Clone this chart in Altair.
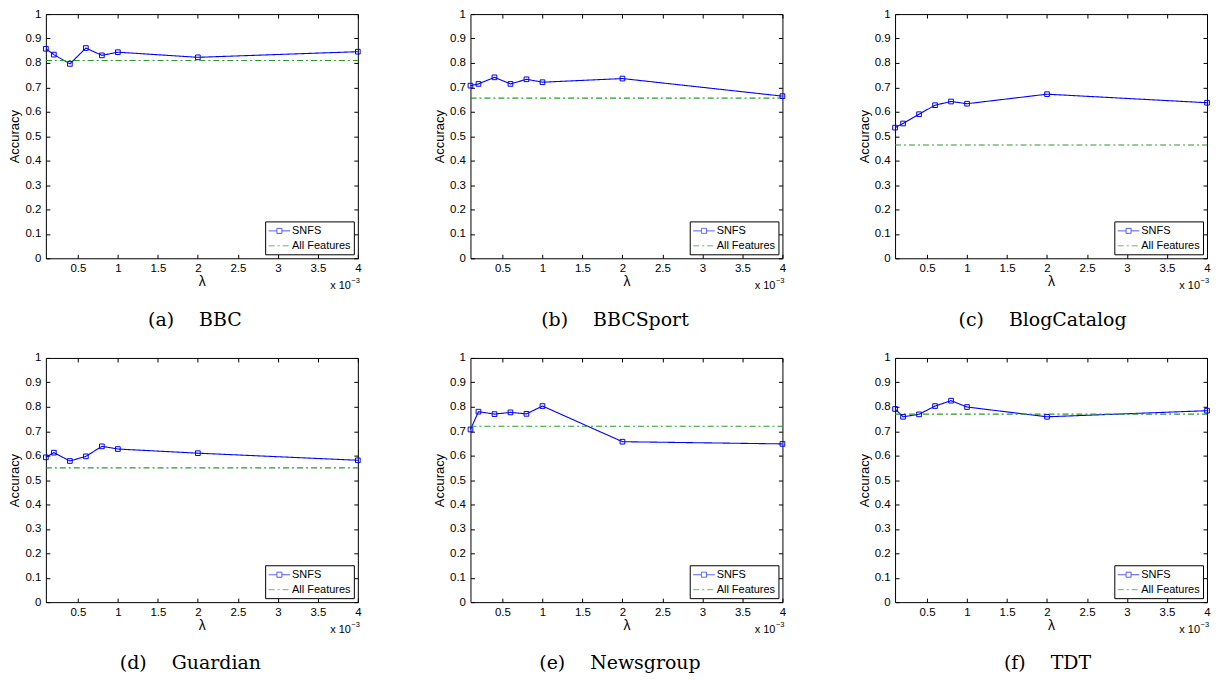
import altair as alt
import pandas as pd

# ---------------- data ----------------
lam = [0.1, 0.2, 0.4, 0.6, 0.8, 1, 2, 4]          # lambda (x 10^-3)
x_ticks = [0.5, 1, 1.5, 2, 2.5, 3, 3.5, 4]
y_ticks = [0, 0.1, 0.2, 0.3, 0.4, 0.5, 0.6, 0.7, 0.8, 0.9, 1]

captions = ["(a)\u2003 BBC", "(b)\u2003 BBCSport", "(c)\u2003 BlogCatalog",
            "(d)\u2003 Guardian", "(e)\u2003 Newsgroup", "(f)\u2003 TDT"]

snfs_bbc = [0.858, 0.834, 0.796, 0.861, 0.831, 0.844, 0.823, 0.846]
snfs_bbcsport = [0.707, 0.714, 0.741, 0.714, 0.733, 0.721, 0.736, 0.664]
snfs_blogcatalog = [0.535, 0.552, 0.590, 0.627, 0.642, 0.633, 0.672, 0.637]
snfs_guardian = [0.593, 0.612, 0.578, 0.597, 0.638, 0.627, 0.610, 0.581]
snfs_newsgroup = [0.707, 0.780, 0.770, 0.777, 0.771, 0.803, 0.657, 0.648]
snfs_tdt = [0.791, 0.759, 0.769, 0.803, 0.825, 0.799, 0.759, 0.784]

all_features = [0.810, 0.656, 0.464, 0.550, 0.720, 0.770]

series_names = ["SNFS", "All Features"]

# ---------------- styling / layout ----------------
W, H = 313, 245
FONT = "Liberation Sans"
COLORS = ["#0000ff", "#2a9a2a"]
DASHES = [[1, 0], [6, 3, 2, 3]]
CAPTION_DX = [-7, -11.5, -8.5, -11.5, -6.5, -3.5]

SNFS_PATH = "M-1,0L0.38,0M0.38,-0.42L1.22,-0.42L1.22,0.42L0.38,0.42ZM1.22,0L2.6,0"
AF_PATH = "M-1,0L2.6,0"

legend = alt.Legend(
    title=None, orient="bottom-right", offset=4, padding=3,
    fillColor="white", strokeColor="black",
    labelFont=FONT, labelFontSize=11, labelColor="black", labelOffset=11,
    symbolSize=144, symbolStrokeWidth=1, rowPadding=3,
    symbolFillColor="transparent",
)

color_enc = alt.Color("series:N", scale=alt.Scale(domain=series_names, range=COLORS), legend=legend)
dash_enc = alt.StrokeDash("series:N", scale=alt.Scale(domain=series_names, range=DASHES), legend=legend)
shape_enc = alt.Shape("series:N", scale=alt.Scale(domain=series_names, range=[SNFS_PATH, AF_PATH]),
                      legend=legend)

xscale = alt.Scale(domain=[0.1, 4], nice=False, zero=False)
yscale = alt.Scale(domain=[0, 1], nice=False, zero=False)

main_x_axis = alt.Axis(values=x_ticks, format="~g", orient="bottom", ticks=False, domain=False,
                       grid=False, labelFont=FONT, labelFontSize=11.5, labelColor="black",
                       labelPadding=4, labelFlush=False, title="λ", titleFont=FONT,
                       titleFontSize=14, titleFontWeight="normal", titlePadding=0,
                       titleY=16, titleBaseline="top", titleColor="black")
main_y_axis = alt.Axis(values=y_ticks, format="~g", orient="left", ticks=False, domain=False,
                       grid=False, labelFont=FONT, labelFontSize=11.5, labelColor="black",
                       labelPadding=5, title="Accuracy", titleFont=FONT, titleFontSize=13,
                       titleFontWeight="normal", titlePadding=3, titleColor="black")


def tick_axis(values, orient, offset):
    return alt.Axis(values=values, orient=orient, offset=offset, labels=False, domain=False,
                    grid=False, ticks=True, tickSize=4, tickColor="black", tickWidth=1,
                    title=None)


def panel(snfs, af, caption, cdx):
    df_s = pd.DataFrame({"lam": lam, "acc": snfs, "series": "SNFS"})
    df_a = pd.DataFrame({"lam": [lam[0], lam[-1]], "acc": [af, af], "series": "All Features"})

    line_s = alt.Chart(df_s).mark_line(strokeWidth=1.1).encode(
        x=alt.X("lam:Q", scale=xscale, axis=main_x_axis),
        y=alt.Y("acc:Q", scale=yscale, axis=main_y_axis),
        color=color_enc, strokeDash=dash_enc,
    )
    line_a = alt.Chart(df_a).mark_line(strokeWidth=1.1).encode(
        x=alt.X("lam:Q", scale=xscale, axis=tick_axis(x_ticks, "top", -H)),
        y=alt.Y("acc:Q", scale=yscale, axis=tick_axis(y_ticks, "right", -W)),
        color=color_enc, strokeDash=dash_enc,
    )
    pts = alt.Chart(df_s).mark_point(shape="square", filled=False, size=22, strokeWidth=1,
                                     color="#0000ff", opacity=1).encode(
        x=alt.X("lam:Q", scale=xscale, axis=tick_axis(x_ticks, "bottom", -H)),
        y=alt.Y("acc:Q", scale=yscale, axis=tick_axis(y_ticks, "left", -W)),
    )
    # legend-only layer (draws nothing): gives legend entries their line+marker symbols
    leg = alt.Chart(df_s).mark_point(filled=False, strokeWidth=1).encode(
        color=color_enc, strokeDash=dash_enc, shape=shape_enc,
    ).transform_filter("false")
    t1 = alt.Chart(pd.DataFrame({"t": ["x 10"]})).mark_text(
        align="right", baseline="alphabetic", font=FONT, fontSize=11, color="black"
    ).encode(x=alt.value(W - 7), y=alt.value(H + 31), text="t:N")
    t2 = alt.Chart(pd.DataFrame({"t": ["−3"]})).mark_text(
        align="left", baseline="alphabetic", font=FONT, fontSize=7.5, color="black"
    ).encode(x=alt.value(W - 6.5), y=alt.value(H + 25), text="t:N")

    return alt.layer(
        line_s, line_a, pts, leg, t1, t2,
        title=alt.TitleParams(caption, orient="bottom", font="DejaVu Serif", fontSize=19,
                              fontWeight="normal", color="black", offset=19.5, dx=cdx,
                              anchor="middle", frame="group"),
    ).resolve_axis(x="independent", y="independent").properties(width=W, height=H)


snfs_all = [snfs_bbc, snfs_bbcsport, snfs_blogcatalog, snfs_guardian, snfs_newsgroup, snfs_tdt]
panels = [panel(s, a, c, d) for s, a, c, d in zip(snfs_all, all_features, captions, CAPTION_DX)]

indep = dict(color="independent", strokeDash="independent", shape="independent")
row1 = alt.hconcat(*panels[:3], spacing=70).resolve_scale(**indep).resolve_legend(**indep)
row2 = alt.hconcat(*panels[3:], spacing=70).resolve_scale(**indep).resolve_legend(**indep)

chart = alt.vconcat(row1, row2, spacing=21).resolve_scale(**indep).resolve_legend(
    **indep).properties(padding={"top": -2, "left": 0, "right": 0, "bottom": 0},
                        background="white"
).configure(font=FONT).configure_view(stroke="black", strokeWidth=1)

chart.save("out.html", embed_options={"renderer": "svg", "actions": False})
